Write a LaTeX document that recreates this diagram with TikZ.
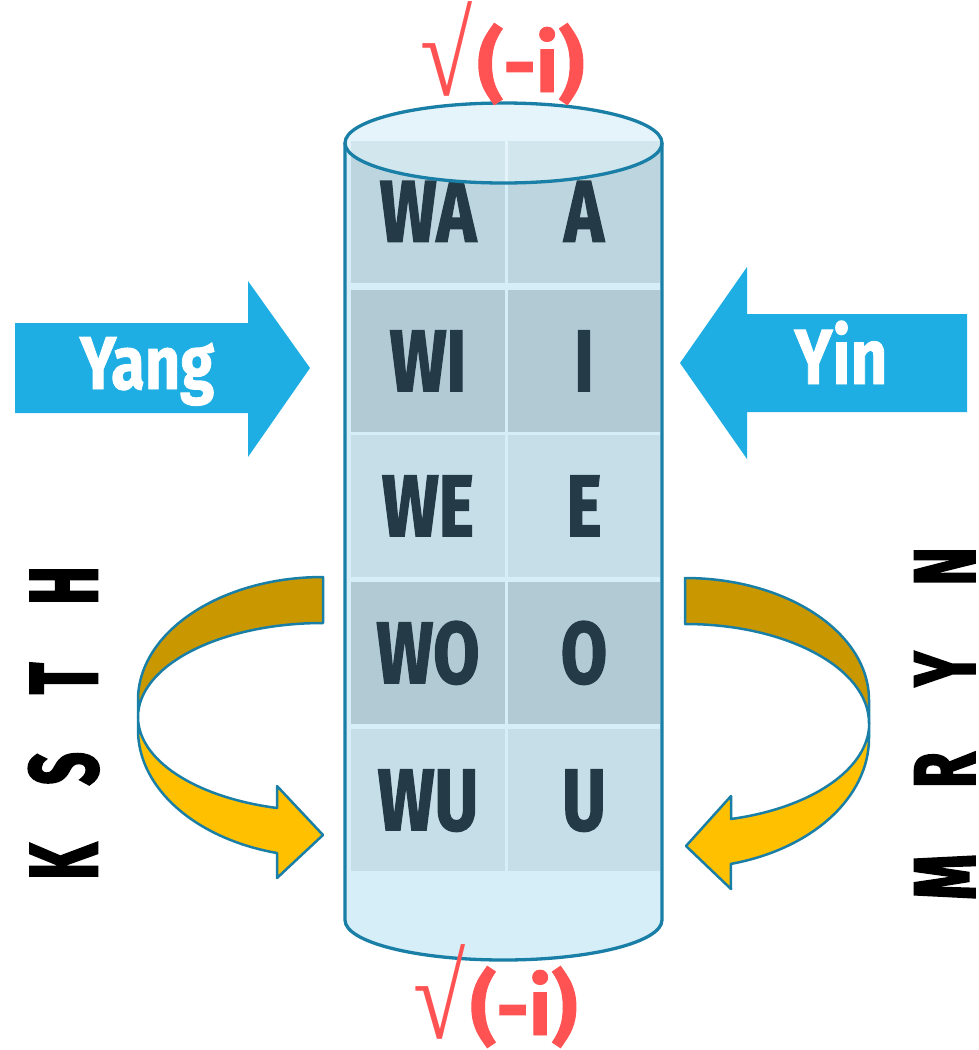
\documentclass[tikz,border=0pt]{standalone}
\usepackage{fontspec}
\usepackage{graphicx}
\newfontfamily\fira{Fira Sans}[BoldFeatures={FakeBold=1.2}]
\newfontfamily\cellf{Fira Sans}[BoldFeatures={FakeBold=2}]
\newfontfamily\heavyf{Fira Sans}[BoldFeatures={FakeBold=3}]
\newfontfamily\rootf{Liberation Serif}
\definecolor{cylbody}{HTML}{D6EEF7}
\definecolor{topfill}{HTML}{E4F4FA}
\definecolor{cylline}{HTML}{1A7FA6}
\definecolor{rowA}{HTML}{BCD5DE}
\definecolor{rowB}{HTML}{B2CAD4}
\definecolor{rowC}{HTML}{C5DEE7}
\definecolor{celltext}{HTML}{243B47}
\definecolor{arrowblue}{HTML}{1EAEE3}
\definecolor{golddark}{HTML}{C99800}
\definecolor{goldlight}{HTML}{FFC000}
\definecolor{redlabel}{HTML}{FF5252}
\newcommand\celltxt[1]{\scalebox{0.77}[1]{#1}}
\newcommand\rootlabel{{\rootf\fontsize{95}{95}\selectfont\raisebox{-3pt}{\scalebox{1.0}[1.25]{√}}}\hspace{5pt}{\fira\bfseries\fontsize{80}{80}\selectfont(-i)}}
\tikzset{
  cellbox/.style={rectangle, inner sep=0pt, minimum height=142pt, text=celltext,
    font=\cellf\bfseries\fontsize{87}{87}\selectfont, text height=60pt, text depth=0pt},
  cellL/.style={cellbox, minimum width=154pt},
  cellR/.style={cellbox, minimum width=152pt},
  bluearrow/.style={fill=arrowblue, draw=none},
  arrowlabel/.style={text=white, inner sep=0pt, anchor=base},
  ribbonback/.style={fill=golddark, draw=cylline, line width=2.5pt, line join=round},
  ribbonfront/.style={fill=goldlight, draw=cylline, line width=2.5pt, line join=round},
  sidetext/.style={rotate=90, inner sep=0pt, text depth=0pt,
    font=\heavyf\bfseries\fontsize{96}{96}\selectfont},
  redtext/.style={text=redlabel, inner sep=0pt, anchor=base west}
}
\begin{document}
\begin{tikzpicture}[x=1pt,y=-1pt]
\useasboundingbox (0,0) rectangle (979,1050);
% cylinder body
\fill[cylbody] (345,143) -- (345,920) arc[start angle=180,end angle=0,x radius=158.5,y radius=40] -- (662,143) -- cycle;
\fill[topfill] (503.5,143) ellipse[x radius=158.5, y radius=40];
% cells
\node[cellL, fill=rowA] (c1l) at (428,211.5) {\celltxt{WA}};
\node[cellR, fill=rowA] (c1r) at (584,211.5) {\celltxt{A}};
\node[cellL, fill=rowB] (c2l) at (428,361) {\celltxt{WI}};
\node[cellR, fill=rowB] (c2r) at (584,361) {\celltxt{I}};
\node[cellL, fill=rowC] (c3l) at (428,506) {\celltxt{WE}};
\node[cellR, fill=rowC] (c3r) at (584,506) {\celltxt{E}};
\node[cellL, fill=rowB] (c4l) at (428,653) {\celltxt{WO}};
\node[cellR, fill=rowB] (c4r) at (584,653) {\celltxt{O}};
\node[cellL, fill=rowC] (c5l) at (428,800) {\celltxt{WU}};
\node[cellR, fill=rowC] (c5r) at (584,800) {\celltxt{U}};
% top ellipse translucent over cells
\fill[topfill, fill opacity=0.55] (503.5,143) ellipse[x radius=158.5, y radius=40];
\draw[cylline, line width=3.3pt] (345,143) -- (345,920) arc[start angle=180,end angle=0,x radius=158.5,y radius=40] -- (662,143);
\draw[cylline, line width=3.3pt] (503.5,143) ellipse[x radius=158.5, y radius=40];
% Yang arrow
\fill[bluearrow] (15,323) -- (248,323) -- (248,281) -- (310,368) -- (248,457) -- (248,413) -- (15,413) -- cycle;
\node[arrowlabel] (yang) at (147,389) {\fira\bfseries\fontsize{75}{75}\selectfont\scalebox{0.82}[1]{Yang}};
% Yin arrow
\fill[bluearrow] (967,314) -- (747,314) -- (747,267) -- (680,363) -- (747,459) -- (747,412) -- (967,412) -- cycle;
\node[arrowlabel] (yin) at (841,384) {\fira\bfseries\fontsize{78}{78}\selectfont\scalebox{0.82}[1]{Yin}};
% left curved arrow
\draw[ribbonback] (323,577) arc[start angle=-90, end angle=-180, x radius=185, y radius=123]
  -- (138,717) arc[start angle=180, end angle=270, x radius=185, y radius=94] -- cycle;
\draw[ribbonfront] (138,717) -- (138,730) arc[start angle=180, end angle=104.4, x radius=185, y radius=127]
  -- (277,878) -- (323,835) -- (277,786) -- (277,808)
  arc[start angle=104.4, end angle=180, x radius=185, y radius=94] -- cycle;
% right curved arrow
\draw[ribbonback] (685,578) arc[start angle=-90, end angle=0, x radius=184, y radius=122]
  -- (869,723) arc[start angle=0, end angle=-90, x radius=184, y radius=99] -- cycle;
\draw[ribbonfront] (869,723) -- (869,738) arc[start angle=0, end angle=75.6, x radius=184, y radius=130]
  -- (731,889) -- (686,846) -- (731,796) -- (731,819)
  arc[start angle=75.6, end angle=0, x radius=184, y radius=99] -- cycle;
% side texts
\node[sidetext, text height=66pt] (ksth) at (64,723) {\scalebox{0.6}[1]{\spaceskip=97pt K S T H}};
\node[sidetext, text height=59pt, font=\heavyf\bfseries\fontsize{86}{86}\selectfont] (mryn) at (945,723.5) {\scalebox{0.67}[1]{\spaceskip=99pt M R Y N}};
% red labels
\node[redtext] (toplabel) at (420,92) {\rootlabel};
\node[redtext] (botlabel) at (413,1035) {\rootlabel};
\end{tikzpicture}
\end{document}
